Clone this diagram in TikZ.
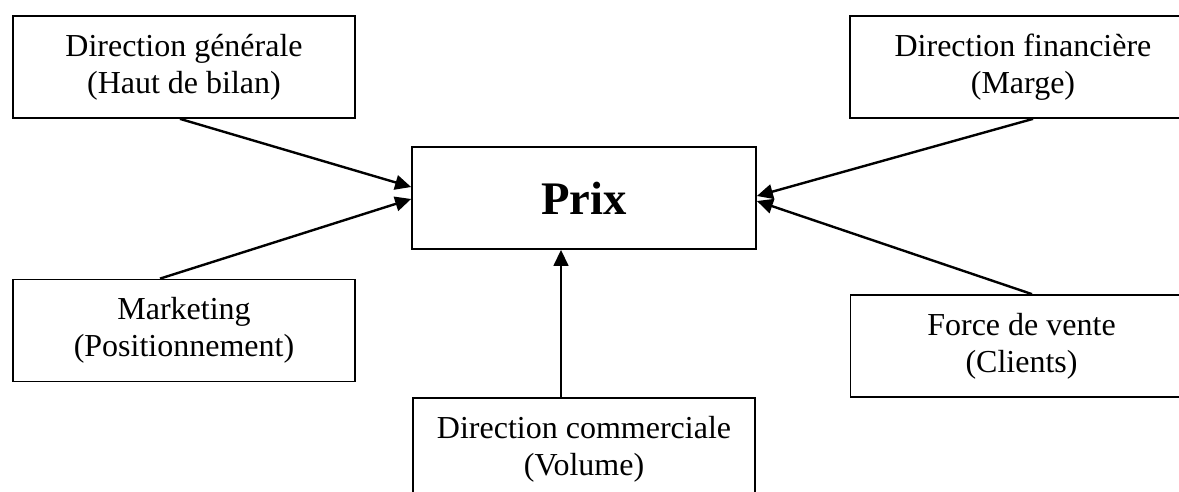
\documentclass[tikz,border=0pt]{standalone}
\usepackage{fontspec}
\setmainfont{Liberation Serif}
\usetikzlibrary{arrows.meta,calc}
\begin{document}
\begin{tikzpicture}[x=0.75pt,y=-0.75pt,
  box/.style={draw,line width=1.3pt,minimum width=256.5pt,minimum height=76.5pt,
    inner sep=0pt,align=center,font=\fontsize{24}{27.5}\selectfont},
  arr/.style={line width=1.8pt,-{Triangle[length=12pt,width=11pt]}}]
\useasboundingbox (0,0) rectangle (1179,492);
\node[box] (dg) at (184,67) {Direction générale\\(Haut de bilan)};
\node[box,minimum width=259.5pt] (df) at (1023,67) {Direction financière\\(Marge)};
\node[box,minimum width=258pt] (prix) at (584,198) {\fontsize{35}{40}\selectfont\bfseries Prix};
\node[box] (mk) at (184,330.5) {Marketing\\(Positionnement)};
\node[box,minimum width=256.5pt] (fv) at (1021.5,346) {Force de vente\\(Clients)};
\node[box] (dc) at (584,449) {Direction commerciale\\(Volume)};
\draw[arr] ($(dg.south)+(-4,0)$) -- ($(prix.west)+(0,-11)$);
\draw[arr] ($(mk.north)+(-24,0)$) -- ($(prix.west)+(0,1)$);
\draw[arr] ($(df.south)+(10,0)$) -- ($(prix.east)+(0,-2)$);
\draw[arr] ($(fv.north)+(10.5,0)$) -- ($(prix.east)+(0,3)$);
\draw[arr] ($(dc.north)+(-23,0)$) -- ($(prix.south)+(-23,0)$);
\end{tikzpicture}
\end{document}
